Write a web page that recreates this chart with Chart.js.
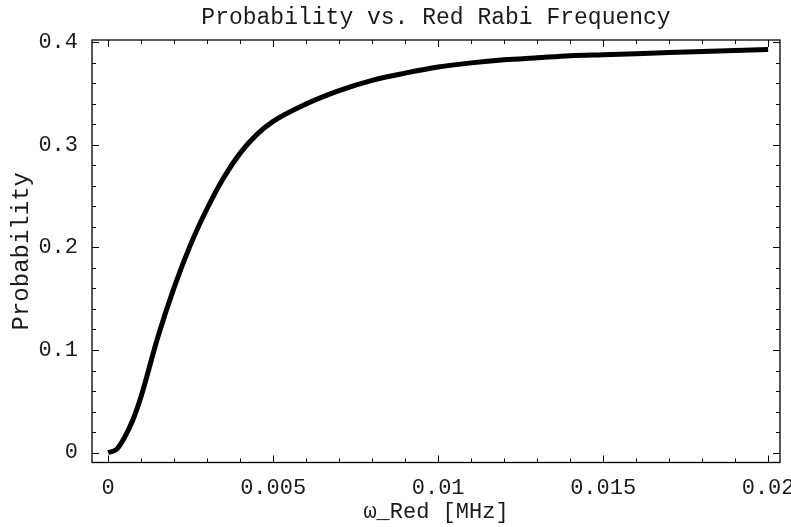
<!DOCTYPE html>
<html>
<head>
<meta charset="utf-8">
<script src="https://cdn.jsdelivr.net/npm/chart.js@4.4.1/dist/chart.umd.min.js"></script>
<style>
  html, body { margin: 0; padding: 0; background: #fff; }
</style>
</head>
<body>
<canvas id="myChart" width="791" height="527"></canvas>
<script>
// values
const freqMHz = [0, 0.00025, 0.0005, 0.00075, 0.001, 0.0015, 0.002, 0.0025, 0.003, 0.0035,
  0.004, 0.0045, 0.005, 0.006, 0.007, 0.008, 0.009, 0.010, 0.011, 0.012, 0.013, 0.014,
  0.015, 0.016, 0.017, 0.018, 0.019, 0.020];
const probability = [0, 0.003, 0.015, 0.032, 0.055, 0.112, 0.161, 0.203, 0.238, 0.268,
  0.292, 0.310, 0.323, 0.340, 0.353, 0.363, 0.370, 0.376, 0.380, 0.383, 0.385, 0.387,
  0.388, 0.389, 0.390, 0.391, 0.392, 0.393];

const xMajor = [0, 0.005, 0.01, 0.015, 0.02];
const xLabels = ["0", "0.005", "0.01", "0.015", "0.02"];
const xMinor = [0.001, 0.002, 0.003, 0.004, 0.006, 0.007, 0.008, 0.009, 0.011, 0.012,
  0.013, 0.014, 0.016, 0.017, 0.018, 0.019];
const yMajor = [0, 0.1, 0.2, 0.3, 0.4];
const yLabels = ["0", "0.1", "0.2", "0.3", "0.4"];
const yMinor = [0.02, 0.04, 0.06, 0.08, 0.12, 0.14, 0.16, 0.18, 0.22, 0.24, 0.26, 0.28,
  0.32, 0.34, 0.36, 0.38];

const textColor = "#1a1a1a";
const mono = "'Liberation Mono', 'DejaVu Sans Mono', monospace";

const points = freqMHz.map((f, i) => ({ x: f, y: probability[i] }));

// mathematica style frame with inward ticks on all four sides
const framePlugin = {
  id: "frame",
  afterDatasetsDraw(chart) {
    const { ctx, chartArea: a, scales } = chart;
    const xs = scales.x;
    const ys = scales.y;
    ctx.save();
    ctx.strokeStyle = "#000";
    ctx.lineWidth = 1.3;
    ctx.strokeRect(a.left, a.top, a.right - a.left, a.bottom - a.top);
    ctx.lineWidth = 1;
    const tickX = (v, len) => {
      const px = Math.round(xs.getPixelForValue(v)) + 0.5;
      ctx.moveTo(px, a.bottom); ctx.lineTo(px, a.bottom - len);
      ctx.moveTo(px, a.top); ctx.lineTo(px, a.top + len);
    };
    const tickY = (v, len) => {
      const py = Math.round(ys.getPixelForValue(v)) + 0.5;
      ctx.moveTo(a.left, py); ctx.lineTo(a.left + len, py);
      ctx.moveTo(a.right, py); ctx.lineTo(a.right - len, py);
    };
    ctx.beginPath();
    xMajor.forEach((v) => tickX(v, 7));
    xMinor.forEach((v) => tickX(v, 4));
    yMajor.forEach((v) => tickY(v, 7));
    yMinor.forEach((v) => tickY(v, 4));
    ctx.stroke();
    ctx.restore();
  },
};

const ctx = document.getElementById("myChart").getContext("2d");

new Chart(ctx, {
  type: "line",
  data: {
    datasets: [
      {
        data: points,
        borderColor: "#000",
        borderWidth: 5,
        pointRadius: 0,
        fill: false,
        cubicInterpolationMode: "monotone",
      },
    ],
  },
  options: {
    responsive: false,
    animation: false,
    layout: { padding: { left: 0, right: 11, top: 0, bottom: 0 } },
    plugins: {
      legend: { display: false },
      tooltip: { enabled: false },
      title: {
        display: true,
        fullSize: false,
        text: "Probability vs. Red Rabi Frequency",
        color: textColor,
        font: { family: mono, size: 23, weight: "normal" },
        padding: { top: 4, bottom: 8.4 },
      },
    },
    scales: {
      x: {
        type: "linear",
        min: -0.00049,
        max: 0.02036,
        grid: { display: false },
        border: { display: false },
        afterBuildTicks: (scale) => {
          scale.ticks = xMajor.map((v) => ({ value: v }));
        },
        afterFit: (scale) => {
          scale.height = 64.5;
          scale.paddingLeft = 0;
          scale.paddingRight = 0;
        },
        ticks: {
          autoSkip: false,
          maxRotation: 0,
          padding: 4,
          color: textColor,
          font: { family: mono, size: 22 },
          callback: (v, i) => xLabels[i],
        },
        title: {
          display: true,
          text: "\u03c9_Red [MHz]",
          color: textColor,
          font: { family: mono, size: 22 },
          padding: { top: 0, bottom: 2 },
        },
      },
      y: {
        min: -0.0097,
        max: 0.4023,
        grid: { display: false },
        border: { display: false },
        afterBuildTicks: (scale) => {
          scale.ticks = yMajor.map((v) => ({ value: v }));
        },
        afterFit: (scale) => {
          scale.width = 92;
          scale.paddingTop = 0;
          scale.paddingBottom = 0;
        },
        ticks: {
          autoSkip: false,
          padding: 6,
          color: textColor,
          font: { family: mono, size: 22 },
          callback: (v, i) => yLabels[i],
        },
        title: {
          display: true,
          text: "Probability",
          color: textColor,
          font: { family: mono, size: 24 },
          padding: { top: 7, bottom: 0 },
        },
      },
    },
  },
  plugins: [framePlugin],
});
</script>
</body>
</html>
